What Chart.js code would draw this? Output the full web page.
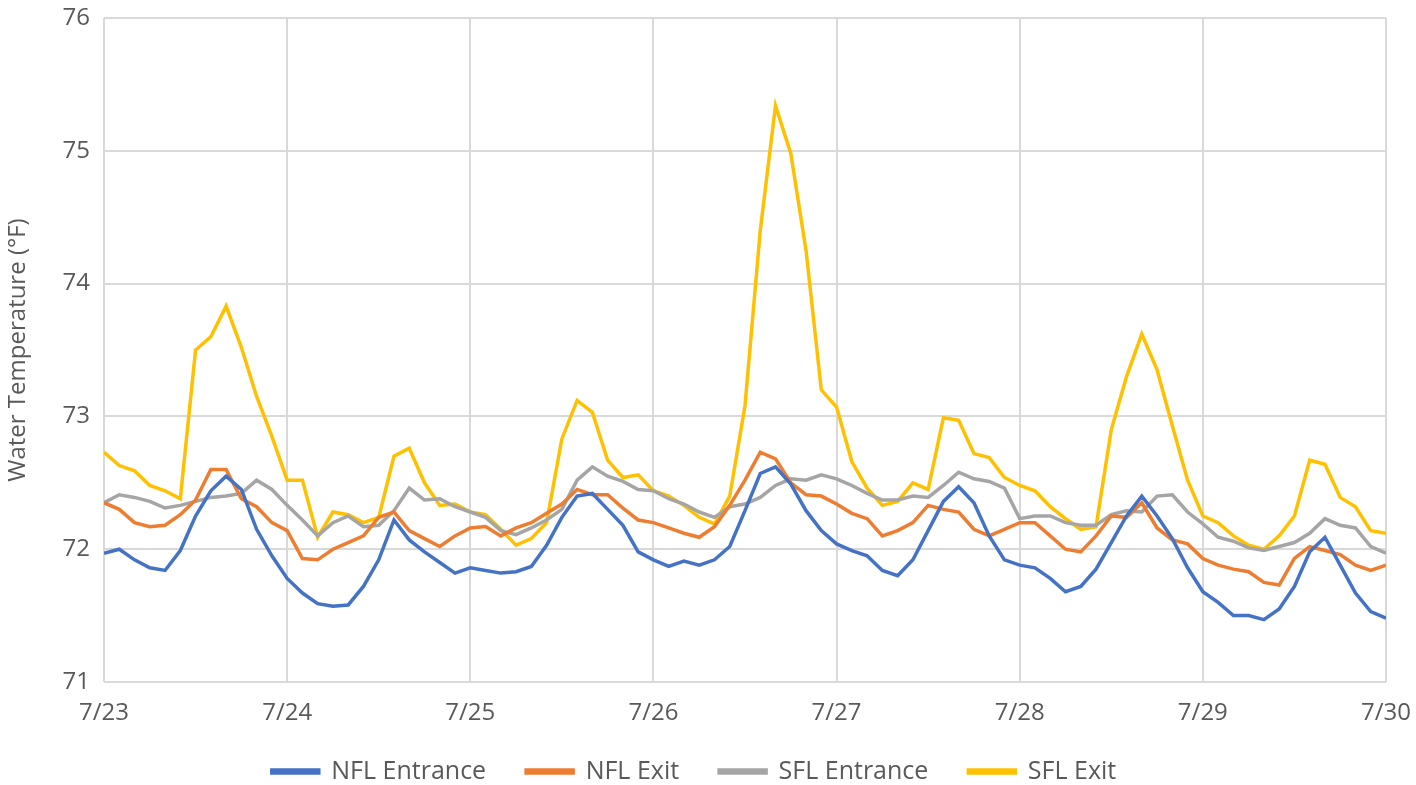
<!DOCTYPE html>
<html>
<head>
<meta charset="utf-8">
<script src="https://cdn.jsdelivr.net/npm/chart.js@4/dist/chart.umd.min.js"></script>
<style>
    html, body { margin: 0; padding: 0; background: #fff; }
    #wrap { width: 1416px; height: 785px; }
</style>
</head>
<body>
<div id="wrap"><canvas id="tempChart" width="1416" height="785"></canvas></div>
<script>
// readings every 2 hours, 7/23 00:00 to 7/30 00:00
const hours = [];
for (let h = 0; h <= 168; h += 2) hours.push(h);

const dayLabels = ["7/23", "7/24", "7/25", "7/26", "7/27", "7/28", "7/29", "7/30"];
const yTicks = [71, 72, 73, 74, 75, 76];

const nflEntrance = [
    71.97, 72.0, 71.92, 71.86, 71.84, 71.99, 72.25, 72.44, 72.55, 72.45, 72.15, 71.95,
    71.78, 71.67, 71.59, 71.57, 71.58, 71.72, 71.92, 72.22, 72.07, 71.98, 71.9, 71.82,
    71.86, 71.84, 71.82, 71.83, 71.87, 72.03, 72.24, 72.4, 72.42, 72.3, 72.18, 71.98,
    71.92, 71.87, 71.91, 71.88, 71.92, 72.02, 72.29, 72.57, 72.62, 72.49, 72.29, 72.14,
    72.04, 71.99, 71.95, 71.84, 71.8, 71.92, 72.14, 72.36, 72.47, 72.35, 72.1, 71.92,
    71.88, 71.86, 71.78, 71.68, 71.72, 71.85, 72.05, 72.25, 72.4, 72.25, 72.08, 71.86,
    71.68, 71.6, 71.5, 71.5, 71.47, 71.55, 71.72, 71.98, 72.09, 71.88, 71.67, 71.53, 71.48
];
const nflExit = [
    72.35, 72.3, 72.2, 72.17, 72.18, 72.26, 72.37, 72.6, 72.6, 72.38, 72.32, 72.2,
    72.14, 71.93, 71.92, 72.0, 72.05, 72.1, 72.24, 72.28, 72.14, 72.08, 72.02, 72.1,
    72.16, 72.17, 72.1, 72.16, 72.2, 72.27, 72.34, 72.45, 72.41, 72.41, 72.31, 72.22,
    72.2, 72.16, 72.12, 72.09, 72.17, 72.33, 72.52, 72.73, 72.68, 72.5, 72.41, 72.4,
    72.34, 72.27, 72.23, 72.1, 72.14, 72.2, 72.33, 72.3, 72.28, 72.15, 72.1, 72.15,
    72.2, 72.2, 72.1, 72.0, 71.98, 72.1, 72.25, 72.24, 72.35, 72.16, 72.07, 72.04,
    71.93, 71.88, 71.85, 71.83, 71.75, 71.73, 71.93, 72.02, 71.99, 71.96, 71.88, 71.84, 71.88
];
const sflEntrance = [
    72.35, 72.41, 72.39, 72.36, 72.31, 72.33, 72.36, 72.39, 72.4, 72.42, 72.52, 72.45,
    72.33, 72.22, 72.1, 72.2, 72.25, 72.17, 72.18, 72.29, 72.46, 72.37, 72.38, 72.32,
    72.28, 72.24, 72.14, 72.11, 72.16, 72.22, 72.3, 72.52, 72.62, 72.55, 72.51, 72.45,
    72.44, 72.38, 72.34, 72.28, 72.24, 72.32, 72.34, 72.39, 72.48, 72.53, 72.52, 72.56,
    72.53, 72.48, 72.42, 72.37, 72.37, 72.4, 72.39, 72.48, 72.58, 72.53, 72.51, 72.46,
    72.23, 72.25, 72.25, 72.2, 72.18, 72.18, 72.26, 72.29, 72.28, 72.4, 72.41, 72.28,
    72.19, 72.09, 72.06, 72.01, 71.99, 72.02, 72.05, 72.12, 72.23, 72.18, 72.16, 72.02, 71.97
];
const sflExit = [
    72.73, 72.63, 72.59, 72.48, 72.44, 72.38, 73.5, 73.6, 73.83, 73.52, 73.15, 72.85,
    72.52, 72.52, 72.09, 72.28, 72.26, 72.2, 72.24, 72.7, 72.76, 72.5, 72.33, 72.34,
    72.28, 72.26, 72.15, 72.03, 72.08, 72.2, 72.83, 73.12, 73.03, 72.67, 72.54, 72.56,
    72.44, 72.4, 72.33, 72.24, 72.19, 72.4, 73.08, 74.4, 75.34, 74.98, 74.25, 73.2,
    73.07, 72.66, 72.46, 72.33, 72.36, 72.5, 72.45, 72.99, 72.97, 72.72, 72.69, 72.54,
    72.48, 72.44, 72.32, 72.23, 72.15, 72.17, 72.9, 73.3, 73.62, 73.35, 72.93, 72.52,
    72.25, 72.2, 72.1, 72.03, 72.0, 72.1, 72.25, 72.67, 72.64, 72.39, 72.32, 72.14, 72.12
];

const textColor = "#595959";
const gridColor = "#d9d9d9";
const fontFamily = "'Open Sans', 'DejaVu Sans', sans-serif";

function series(label, values, color) {
    return {
        label: label,
        data: values.map((v, i) => ({ x: hours[i], y: v })),
        borderColor: color,
        backgroundColor: color,
        borderWidth: 3.5,
        pointRadius: 0,
        tension: 0,
    };
}

// legend padding also sets the gap between items, so keep the box short
// and pull it up a little after layout
const legendBox = {
    id: "legendBox",
    beforeInit(chart) {
        const legend = chart.legend;
        const fit = legend.fit;
        legend.fit = function () {
            fit.call(legend);
            legend.height = 51;
        };
    },
    afterLayout(chart) {
        chart.legend.top -= 15;
    },
};

document.addEventListener("DOMContentLoaded", function () {
    const ctx = document.getElementById("tempChart").getContext("2d");
    new Chart(ctx, {
        type: "line",
        data: {
            datasets: [
                series("NFL Entrance", nflEntrance, "#4472C4"),
                series("NFL Exit", nflExit, "#ED7D31"),
                series("SFL Entrance", sflEntrance, "#A5A5A5"),
                series("SFL Exit", sflExit, "#FFC000"),
            ],
        },
        options: {
            responsive: false,
            animation: false,
            devicePixelRatio: 1,
            layout: { padding: { left: 2, right: 30, top: 18, bottom: 0 } },
            plugins: {
                tooltip: { enabled: false },
                legend: {
                    position: "bottom",
                    labels: {
                        boxWidth: 47,
                        boxHeight: 3,
                        padding: 40,
                        color: textColor,
                        font: { family: fontFamily, size: 25 },
                    },
                },
            },
            scales: {
                x: {
                    type: "linear",
                    min: 0,
                    max: 168,
                    afterBuildTicks: (scale) => {
                        scale.ticks = dayLabels.map((d, i) => ({ value: i * 24 }));
                    },
                    afterFit: (scale) => {
                        scale.height = 52;
                        scale.paddingLeft = 0;
                        scale.paddingRight = 0;
                    },
                    ticks: {
                        color: textColor,
                        padding: 17,
                        maxRotation: 0,
                        font: { family: fontFamily, size: 24 },
                        callback: (value) => dayLabels[value / 24],
                    },
                    grid: { color: gridColor, lineWidth: 2, drawTicks: false },
                    border: { display: false },
                },
                y: {
                    min: 71,
                    max: 76,
                    afterBuildTicks: (scale) => {
                        scale.ticks = yTicks.map((v) => ({ value: v }));
                    },
                    afterFit: (scale) => {
                        scale.width = 102;
                        scale.paddingTop = 0;
                        scale.paddingBottom = 0;
                    },
                    ticks: {
                        color: textColor,
                        padding: 14,
                        font: { family: fontFamily, size: 24 },
                    },
                    grid: { color: gridColor, lineWidth: 2, drawTicks: false },
                    border: { display: false },
                    title: {
                        display: true,
                        text: "Water Temperature (°F)",
                        color: textColor,
                        padding: 2,
                        font: { family: fontFamily, size: 24 },
                    },
                },
            },
        },
        plugins: [legendBox],
    });
});
</script>
</body>
</html>
